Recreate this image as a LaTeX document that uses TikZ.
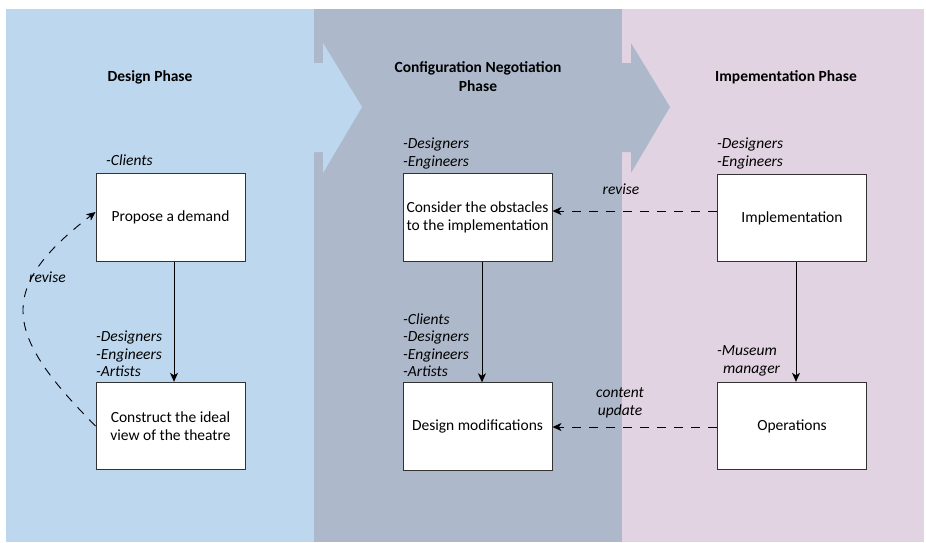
\documentclass[tikz,border=0pt]{standalone}
\usepackage{fontspec}
\setmainfont{Carlito}
\usetikzlibrary{arrows.meta}
\definecolor{phaseblue}{HTML}{BDD7EE}
\definecolor{phasegray}{HTML}{ADB9CA}
\definecolor{phasepink}{HTML}{E2D3E3}
\definecolor{boxline}{HTML}{333333}
\begin{document}
\begin{tikzpicture}[x=1pt,y=-1pt,
  font=\fontsize{15.5}{18}\selectfont,
  stepbox/.style={draw=boxline,fill=white,line width=0.9pt,minimum width=149pt,minimum height=87.5pt,align=center,inner sep=2pt},
  role/.style={anchor=base west,align=left,inner sep=0pt,font=\fontsize{15.5}{17.5}\selectfont\itshape},
  phasetitle/.style={font=\fontsize{15.5}{19}\selectfont\bfseries,align=center},
  flow/.style={line width=0.9pt,-{Stealth[length=9pt,width=8pt,inset=2.5pt]}},
  feedback/.style={line width=0.9pt,dash pattern=on 9pt off 8pt,-{Stealth[length=9pt,width=8pt,inset=2.5pt]}},
  edgelabel/.style={font=\fontsize{15.5}{18}\selectfont\itshape,align=center,inner sep=0pt}
]
\useasboundingbox (0,0) rectangle (926,542);
% phase panels
\fill[phaseblue] (6,9) rectangle (314,542);
\fill[phasegray] (314,9) rectangle (622,542);
\fill[phasepink] (622,9) rectangle (924,542);
\fill[phaseblue] (312,63) -- (323,63) -- (323,43) -- (362,107) -- (323,173) -- (323,152) -- (312,152) -- cycle;
\fill[phasegray] (620,63) -- (631,63) -- (631,43) -- (670,107) -- (631,173) -- (631,152) -- (620,152) -- cycle;
% titles
\node[phasetitle] (t1) at (150,77) {Design Phase};
\node[phasetitle] (t2) at (478,76.5) {Configuration Negotiation\\Phase};
\node[phasetitle] (t3) at (786,77) {Impementation Phase};
% boxes
\node[stepbox] (A) at (170.5,217.5) {Propose a demand};
\node[stepbox] (B) at (170.5,426) {Construct the ideal\\view of the theatre};
\node[stepbox] (C) at (477.5,217.5) {Consider the obstacles\\to the implementation};
\node[stepbox] (D) at (477.5,426.5) {Design modifications};
\node[stepbox] (E) at (792,218) {Implementation};
\node[stepbox] (F) at (792,426) {Operations};
% roles (anchor at baseline of last line)
\node[role] (rA) at (106,165) {-Clients};
\node[role] (rB) at (96,376.5) {-Designers\\-Engineers\\-Artists};
\node[role] (rC) at (403,166) {-Designers\\-Engineers};
\node[role] (rD) at (403,376.5) {-Clients\\-Designers\\-Engineers\\-Artists};
\node[role] (rE) at (717,166) {-Designers\\-Engineers};
\node[role] (rF) at (717,373) {-Museum\\\hspace*{6pt}manager};
% flows
\draw[flow] ([xshift=3.5pt]A.south) -- ([xshift=3.5pt]B.north);
\draw[flow] ([xshift=4.5pt]C.south) -- ([xshift=4.5pt]D.north);
\draw[flow] ([xshift=4pt]E.south) -- ([xshift=4pt]F.north);
% feedback
\draw[feedback] ([yshift=7pt]E.west) -- ([yshift=6.5pt]C.east);
\draw[feedback] ([yshift=-1pt]F.west) -- ([yshift=-0.5pt]D.east);
\draw[feedback] (B.west) .. controls (4,334) and (-4.5,289) .. ([yshift=5.5pt]A.west);
\node[edgelabel] (l1) at (621,189) {revise};
\node[edgelabel] (l2) at (620,403) {content\\update};
\node[edgelabel,anchor=west] (l3) at (29,277) {revise};
\end{tikzpicture}
\end{document}
